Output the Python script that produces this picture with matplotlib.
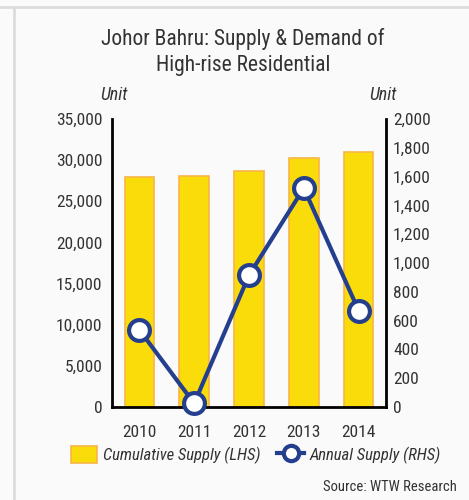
import matplotlib
matplotlib.use("Agg")
import matplotlib.pyplot as plt
from matplotlib.patches import Patch
from matplotlib.lines import Line2D
from matplotlib.ticker import FuncFormatter, MultipleLocator

years = ["2010", "2011", "2012", "2013", "2014"]
cumulative_supply = [27900, 28100, 28700, 30250, 31000]
annual_supply = [535, 25, 915, 1520, 670]

BAR_FACE = "#FADC0A"
BAR_EDGE = "#F7B548"
LINE_C = "#253F8F"
TXT = "#333333"
BG = "#FAFAFA"

plt.rcParams['font.family'] = ['Roboto Condensed', 'DejaVu Sans']

fig = plt.figure(figsize=(4.69, 5.0), dpi=100)
fig.patch.set_facecolor(BG)

fig.add_artist(Line2D([0, 1], [1 - 7/500, 1 - 7/500], transform=fig.transFigure, color="#DCDCDC", lw=2))
fig.add_artist(Line2D([14/469, 14/469], [0, 1 - 7/500], transform=fig.transFigure, color="#DCDCDC", lw=2))

ax = fig.add_axes([112/469, (500-407)/500, 274/469, 288/500])
ax.set_facecolor(BG)
x = list(range(len(years)))
ax.bar(x, cumulative_supply, width=0.54, color=BAR_FACE, edgecolor=BAR_EDGE, linewidth=1.2, zorder=2)
ax.set_xlim(-0.5, 4.5)
ax.set_ylim(0, 35000)
ax.yaxis.set_major_locator(MultipleLocator(5000))
ax.yaxis.set_major_formatter(FuncFormatter(lambda v, p: f"{int(v):,}"))
ax.set_xticks(x)
ax.set_xticklabels(years)
ax.tick_params(axis='both', length=0, labelsize=12.5, colors=TXT, pad=7)
ax.tick_params(axis='x', pad=13)
for s in ["top", "right"]:
    ax.spines[s].set_visible(False)
for s in ["left", "bottom"]:
    ax.spines[s].set_linewidth(2)
    ax.spines[s].set_color("black")

ax2 = ax.twinx()
ax2.plot(x, annual_supply, color=LINE_C, lw=3, marker='o', markersize=15,
         markerfacecolor='white', markeredgecolor=LINE_C, markeredgewidth=3, zorder=5, clip_on=False)
ax2.set_ylim(0, 2000)
ax2.yaxis.set_major_locator(MultipleLocator(200))
ax2.yaxis.set_major_formatter(FuncFormatter(lambda v, p: f"{int(v):,}"))
ax2.tick_params(axis='y', length=0, labelsize=12.5, colors=TXT, pad=5)
for s in ["top", "left", "bottom"]:
    ax2.spines[s].set_visible(False)
ax2.spines["right"].set_linewidth(2)
ax2.spines["right"].set_color("black")

fig.text(243/469, 1 - 39/500, "Johor Bahru: Supply & Demand of",
         ha='center', va='center', fontsize=15.5, color=TXT)
fig.text(243/469, 1 - 65/500, "High-rise Residential",
         ha='center', va='center', fontsize=15.5, color=TXT)
fig.text(114/469, 1 - 95/500, "Unit", ha='center', va='center', fontsize=13, style='italic', color=TXT)
fig.text(383/469, 1 - 95/500, "Unit", ha='center', va='center', fontsize=13, style='italic', color=TXT)

handles = [Patch(facecolor=BAR_FACE, edgecolor=BAR_EDGE, linewidth=1.2),
           Line2D([0], [0], color=LINE_C, lw=3, marker='o', markersize=11,
                  markerfacecolor='white', markeredgecolor=LINE_C, markeredgewidth=3)]
labels = ["Cumulative Supply (LHS)", "Annual Supply (RHS)"]
leg = fig.legend(handles, labels, loc='center', bbox_to_anchor=(256/469, 1 - 455/500), ncol=2,
                 frameon=False, prop={'style': 'italic', 'size': 12}, handlelength=1.6,
                 handletextpad=0.35, columnspacing=1.0, handleheight=1.2)
for t in leg.get_texts():
    t.set_color(TXT)

fig.text(457/469, 1 - 487/500, "Source: WTW Research", ha='right', va='center', fontsize=10.5, color=TXT)

fig.savefig("out.png", dpi=100, facecolor=BG)
